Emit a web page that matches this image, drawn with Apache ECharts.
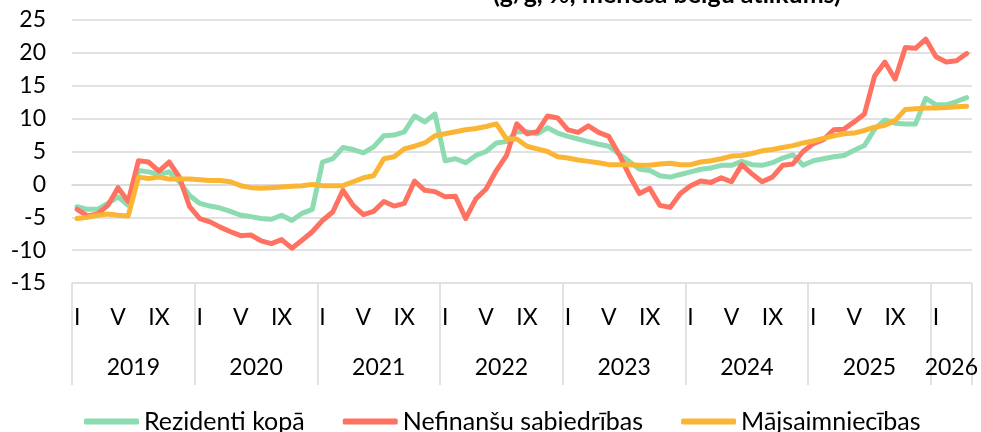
<!DOCTYPE html>
<html>
<head>
<meta charset="utf-8">
<script src="https://cdn.jsdelivr.net/npm/echarts@6/dist/echarts.min.js"></script>
<style>
    html, body { margin: 0; padding: 0; background: #fff; }
    #chart { width: 981px; height: 432px; }
</style>
</head>
<body>
<div id="chart"></div>
<script>
var months = ['I', 'II', 'III', 'IV', 'V', 'VI', 'VII', 'VIII', 'IX', 'X', 'XI', 'XII'];
var shownMonths = ['I', 'V', 'IX'];
var years = ['2019', '2020', '2021', '2022', '2023', '2024', '2025', '2026'];
var monthsLastYear = 4;

var rezidenti = [
    -3.4, -3.8, -3.8, -2.9, -1.9, -3.2, 2.1, 1.9, 1.5, 1.9, 0.4, -1.7,
    -2.9, -3.3, -3.6, -4.1, -4.7, -4.9, -5.2, -5.3, -4.7, -5.5, -4.4, -3.8,
    3.4, 3.9, 5.6, 5.3, 4.8, 5.7, 7.4, 7.5, 8.0, 10.4, 9.5, 10.7,
    3.6, 3.9, 3.3, 4.4, 5.0, 6.3, 6.5, 8.0, 8.0, 7.7, 8.6, 7.8,
    7.3, 6.9, 6.5, 6.1, 5.8, 4.6, 3.5, 2.3, 2.1, 1.3, 1.1, 1.5,
    1.9, 2.3, 2.5, 2.9, 2.9, 3.5, 3.0, 2.9, 3.3, 4.0, 4.5, 2.9,
    3.6, 3.9, 4.2, 4.4, 5.2, 5.9, 8.4, 9.8, 9.3, 9.2, 9.2, 13.1,
    12.1, 12.1, 12.6, 13.2
];
var nefinansu = [
    -3.8, -4.8, -4.5, -3.2, -0.5, -2.6, 3.6, 3.4, 2.0, 3.4, 1.1, -3.4,
    -5.2, -5.7, -6.5, -7.2, -7.8, -7.7, -8.6, -9.0, -8.4, -9.7, -8.5, -7.2,
    -5.5, -4.2, -0.9, -3.2, -4.6, -4.1, -2.6, -3.3, -2.9, 0.5, -0.9, -1.1,
    -1.9, -1.8, -5.2, -2.2, -0.7, 2.1, 4.4, 9.2, 7.7, 8.0, 10.4, 10.1,
    8.3, 7.9, 8.9, 7.9, 7.3, 4.6, 1.4, -1.4, -0.6, -3.2, -3.5, -1.4,
    -0.2, 0.5, 0.3, 1.0, 0.4, 3.0, 1.6, 0.4, 1.1, 2.9, 3.1, 5.0,
    6.2, 6.8, 8.3, 8.4, 9.5, 10.7, 16.5, 18.6, 16.0, 20.8, 20.7, 22.1,
    19.4, 18.6, 18.8, 19.9
];
var majsaimniecibas = [
    -5.2, -5.0, -4.7, -4.5, -4.7, -4.8, 1.1, 0.9, 1.1, 0.8, 0.8, 0.8,
    0.7, 0.6, 0.6, 0.4, -0.2, -0.5, -0.6, -0.5, -0.4, -0.3, -0.2, 0.0,
    -0.2, -0.2, -0.2, 0.4, 1.0, 1.3, 3.9, 4.2, 5.4, 5.8, 6.3, 7.4,
    7.7, 8.0, 8.3, 8.5, 8.8, 9.2, 6.9, 6.9, 5.8, 5.4, 5.0, 4.2,
    4.0, 3.7, 3.5, 3.3, 3.0, 3.0, 3.0, 2.9, 2.9, 3.1, 3.2, 3.0,
    3.0, 3.4, 3.6, 3.9, 4.3, 4.4, 4.7, 5.1, 5.3, 5.6, 5.9, 6.3,
    6.6, 7.0, 7.4, 7.7, 7.8, 8.2, 8.7, 9.0, 9.7, 11.4, 11.5, 11.6,
    11.6, 11.7, 11.8, 11.9
];

var font = 'Lato, "Open Sans", sans-serif';

function AddCreditChart(id) {
    var echart = echarts.init(document.getElementById(id));

    var categories = new Array();
    years.map((y, yi) => {
        var count = (yi == years.length - 1) ? monthsLastYear : 12;
        for (var m = 0; m < count; m++) {
            categories.push(months[m] + ' ' + y);
        }
    });
    var total = categories.length;

    // year boundaries and year centres on a value scale 0..total
    var yearEdges = new Array();
    var yearCentres = new Array();
    for (var i = 0; i < years.length; i++) {
        yearEdges.push(i * 12);
        yearCentres.push(Math.min(i * 12 + 6, (i * 12 + total) / 2));
    }
    yearEdges.push(total);

    var option = {
        animation: false,
        textStyle: { fontFamily: font },
        title: {
            text: '(g/g, %; mēneša beigu atlikums)',
            left: 493,
            top: -18,
            padding: 0,
            textStyle: { fontFamily: font, fontSize: 25, fontWeight: 'bold', color: '#000' }
        },
        legend: {
            data: ['Rezidenti kopā', 'Nefinanšu sabiedrības', 'Mājsaimniecības'],
            left: 84,
            top: 409,
            padding: 0,
            itemGap: 38,
            itemWidth: 55,
            itemHeight: 6,
            icon: 'roundRect',
            textStyle: { fontFamily: font, fontSize: 25, color: '#000' }
        },
        grid: {
            left: 72,
            right: 9,
            top: 20,
            bottom: 149
        },
        xAxis: [
            {
                type: 'category',
                data: categories,
                boundaryGap: true,
                axisLine: { lineStyle: { color: '#d9d9d9', width: 1.5 } },
                axisTick: { show: false },
                axisLabel: {
                    interval: (index, value) => shownMonths.indexOf(value.split(' ')[0]) >= 0,
                    formatter: value => value.split(' ')[0],
                    margin: 23,
                    fontSize: 23,
                    color: '#000'
                }
            },
            {
                type: 'value',
                min: 0,
                max: total,
                position: 'bottom',
                axisLine: { show: false },
                splitLine: { show: false },
                axisTick: {
                    show: true,
                    customValues: yearEdges,
                    length: 102,
                    lineStyle: { color: '#d9d9d9', width: 1.5 }
                },
                axisLabel: {
                    customValues: yearCentres,
                    formatter: v => years[Math.floor(v / 12)],
                    margin: 73,
                    fontSize: 23,
                    color: '#000'
                }
            }
        ],
        yAxis: {
            type: 'value',
            min: -15,
            max: 25,
            interval: 5,
            axisLine: { show: false },
            axisTick: { show: false },
            splitLine: { lineStyle: { color: '#d9d9d9', width: 1.5 } },
            axisLabel: { margin: 26, fontSize: 23, color: '#000' }
        },
        series: [
            {
                name: 'Rezidenti kopā',
                type: 'line',
                data: rezidenti,
                showSymbol: false,
                color: '#8cdbb1',
                lineStyle: { width: 5, color: '#8cdbb1', cap: 'round', join: 'round' }
            },
            {
                name: 'Nefinanšu sabiedrības',
                type: 'line',
                data: nefinansu,
                showSymbol: false,
                color: '#ff7262',
                lineStyle: { width: 5, color: '#ff7262', cap: 'round', join: 'round' }
            },
            {
                name: 'Mājsaimniecības',
                type: 'line',
                data: majsaimniecibas,
                showSymbol: false,
                color: '#fbb535',
                lineStyle: { width: 5, color: '#fbb535', cap: 'round', join: 'round' }
            }
        ]
    };
    echart.setOption(option);
}

AddCreditChart('chart');
</script>
</body>
</html>
